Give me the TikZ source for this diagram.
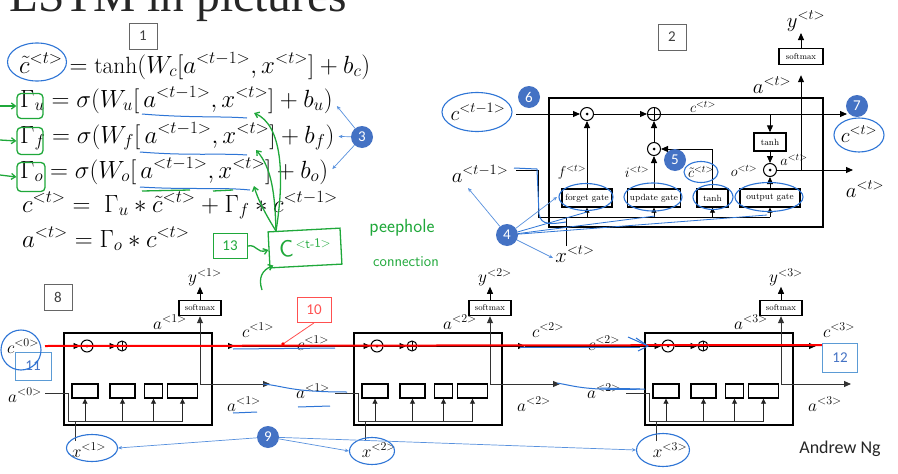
\documentclass[tikz,border=0pt]{standalone}
\usepackage{fontspec}
\usepackage{graphicx}
\newfontfamily\calib{Carlito}
\newfontfamily\ttlfont{Liberation Serif}
\usetikzlibrary{arrows.meta,calc,shapes.geometric}
\definecolor{annoblue}{HTML}{2E75D6}
\definecolor{numblue}{HTML}{4472C4}
\definecolor{grn}{HTML}{1FA83A}
\definecolor{boxred}{HTML}{FF5050}
\definecolor{boxblue}{HTML}{5B9BD5}
\tikzset{
  eqn/.style={anchor=base west, inner sep=0pt, font=\fontsize{23.5}{28}\selectfont},
  lbl/.style={inner sep=0pt, font=\fontsize{20}{24}\selectfont},
  lblm/.style={inner sep=0pt, font=\fontsize{17}{20}\selectfont},
  lbls/.style={inner sep=0pt, font=\fontsize{14}{16}\selectfont},
  numbox/.style={draw=black!60, line width=0.7pt, font=\calib\fontsize{15}{15}\selectfont, text=black!75, minimum width=28pt, minimum height=26pt, inner sep=0pt},
  cellbox/.style={draw, line width=1.8pt, inner sep=0pt},
  gatebox/.style={draw, line width=1.4pt, inner sep=0pt, minimum height=18pt, font=\fontsize{9}{10}\selectfont},
  smallgate/.style={draw, line width=1.4pt, inner sep=0pt, minimum height=14pt},
  softbox/.style={draw, line width=1.4pt, inner sep=0pt, minimum height=16pt, font=\fontsize{8.5}{9}\selectfont},
  mulop/.style={circle, draw, line width=1pt, inner sep=0pt, minimum size=13pt,
    path picture={\fill (path picture bounding box.center) circle (1.5pt);}},
  addop/.style={circle, draw, line width=1pt, inner sep=0pt, minimum size=13pt,
    path picture={\draw (path picture bounding box.north) -- (path picture bounding box.south)
      (path picture bounding box.west) -- (path picture bounding box.east);}},
  wire/.style={draw, line width=0.9pt},
  flow/.style={draw, line width=0.9pt, -{Triangle[length=7pt,width=6pt]}},
  flowsm/.style={draw, line width=0.9pt, -{Triangle[length=5pt,width=5pt]}},
  bnum/.style={circle, fill=numblue, text=white, font=\calib\fontsize{15}{15}\selectfont, minimum size=22pt, inner sep=0pt},
  handell/.style={ellipse, draw=annoblue, line width=1.1pt, inner sep=0pt},
  anno/.style={draw=annoblue, line width=1pt},
  annoarrow/.style={draw=annoblue!80, line width=0.7pt, -{Stealth[length=4pt,width=3.5pt]}},
  gline/.style={draw=grn, line width=1.3pt},
  garrow/.style={draw=grn, line width=1.3pt, -{Straight Barb[length=4pt,width=6pt]}},
  greenbox/.style={draw=grn, line width=1.3pt, rounded corners=4pt, inner sep=0pt},
}
\begin{document}
\begin{tikzpicture}[x=1pt,y=-1pt]
\useasboundingbox (0,0) rectangle (898,474);
\fill[white] (0,0) rectangle (898,474);

% ---------- title ----------
\node[anchor=base west, inner sep=0pt, text=black!85, font=\ttlfont\fontsize{47.5}{48}\selectfont] (title) at (9,11) {LSTM in pictures};

% ---------- equations ----------
\node[numbox] (b1) at (143,36) {1};
\node[eqn] (e1) at (19,73) {$\tilde c^{<t>} = \tanh(W_c[a^{<t-1>}, x^{<t>}] + b_c)$};
\node[eqn] (e2) at (20,107) {$\Gamma_u = \sigma(W_u[\,a^{<t-1>}, x^{<t>}] + b_u)$};
\node[eqn] (e3) at (20,143) {$\Gamma_f = \sigma(W_f[\,a^{<t-1>}, x^{<t>}] + b_f)$};
\node[eqn] (e4) at (20,178) {$\Gamma_o = \sigma(W_o[\,a^{<t-1>}, x^{<t>}] + b_o)$};
\node[eqn] (e5) at (22,212) {$c^{<t>} = \;\Gamma_u * \tilde c^{<t>} + \Gamma_f * c^{<t-1>}$};
\node[eqn] (e6) at (22,247) {$a^{<t>} = \Gamma_o * c^{<t>}$};

% marks on the equations
\node[handell, minimum width=59pt, minimum height=38pt] (ect) at (37,62) {};
\node[greenbox, minimum width=26pt, minimum height=25pt] (gu) at (30,106) {};
\node[greenbox, minimum width=26pt, minimum height=27pt] (gf) at (30,141) {};
\node[greenbox, minimum width=28pt, minimum height=29pt] (go) at (31,177) {};
\coordinate (gul) at (0,106); \coordinate (gfl) at (0,140); \coordinate (gol) at (0,175);
\draw[garrow] (gul) -- (gu.west);
\draw[garrow] (gfl) -- (gf.west);
\draw[garrow] (gol) -- (go.west);
\draw[anno] (142,114) .. controls (190,118) and (220,116) .. (247,118);
\draw[anno] (140,152) .. controls (190,156) and (220,153) .. (247,155);
\draw[anno] (140,187) .. controls (190,190) and (220,187) .. (250,190);
\draw[gline] (142,191) -- (190,190);
\draw[gline] (213,191) -- (233,190);

\node[bnum] (n3) at (362,137) {3};
\draw[annoarrow] (n3) -- ($(e2.east)+(4,6)$);
\draw[annoarrow] (n3) -- ($(e3.east)+(4,0)$);
\draw[annoarrow] (n3) -- ($(e4.east)+(4,-2)$);

% peephole note
\node[draw=grn, line width=0.9pt, text=grn, font=\calib\fontsize{15}{15}\selectfont, minimum width=34pt, minimum height=25pt, inner sep=0pt] (b13) at (230,246) {13};
\node[draw=grn, line width=1.3pt, rotate=3, minimum width=72pt, minimum height=36pt, inner sep=0pt, text=grn] (cbox) at (305,248)
  {\sffamily\fontsize{24}{24}\selectfont C\raisebox{8pt}{\fontsize{13}{13}\selectfont\,<t-1>}};
\draw[garrow] (b13.east) .. controls (258,244) and (256,254) .. (cbox.west);
\coordinate (cbelow) at (262,290);
\draw[garrow] (cbelow) .. controls (258,278) and (262,270) .. ($(cbox.south west)+(4,-3)$);
\coordinate (ctop) at (276,231);
\coordinate (pk2) at (254,113);
\coordinate (pk3) at (256,150);
\coordinate (pk4) at (254,186);
\draw[garrow] (ctop) .. controls (285,175) and (282,125) .. (pk2);
\draw[garrow] (ctop) .. controls (275,195) and (272,168) .. (pk3);
\draw[garrow] (ctop) .. controls (266,215) and (258,200) .. (pk4);
\node[text=grn, inner sep=0pt, font=\sffamily\fontsize{19}{19}\selectfont] (peep) at (402,228) {peephole};
\node[text=grn, inner sep=0pt, font=\sffamily\fontsize{15}{15}\selectfont] (conn) at (406,262) {connection};

% ---------- single LSTM cell ----------
\node[numbox] (b2) at (672,37) {2};
\node[cellbox, minimum width=274pt, minimum height=129pt] (cellT) at (686,162.5) {};
\node[mulop] (fmul) at (587,114) {};
\node[addop] (cadd) at (654,114) {};
\node[mulop] (imul) at (654,149) {};
\node[mulop] (omul) at (770,170) {};
\node[gatebox, minimum width=32pt] (tanhU) at (770,142) {tanh};
\node[gatebox, minimum width=50pt] (fgate) at (587,198) {forget gate};
\node[gatebox, minimum width=53pt] (ugate) at (654,198) {update gate};
\node[gatebox, minimum width=31pt] (tgate) at (712.5,198) {tanh};
\node[gatebox, minimum width=60pt] (ogate) at (770,198) {output gate};
\node[softbox, minimum width=44pt] (softT) at (801,56.5) {softmax};

\node[lbl] (ctm1) at (478,112) {$c^{<t-1>}$};
\node[lbl] (atm1) at (480,174) {$a^{<t-1>}$};
\node[lbl] (xt) at (575,254) {$x^{<t>}$};
\node[lbl] (ctout) at (859,134) {$c^{<t>}$};
\node[lbl] (atout) at (865,189) {$a^{<t>}$};
\node[lbl] (yt) at (806,21) {$y^{<t>}$};
\node[lbl] (atup) at (772,85) {$a^{<t>}$};
\node[lbls] (cti) at (703,107) {$c^{<t>}$};
\node[lbls] (ft) at (572,172) {$f^{<t>}$};
\node[lbls] (it) at (637,172) {$i^{<t>}$};
\node[lbls] (cdt) at (701,172) {$\tilde c^{<t>}$};
\node[lbls] (ot) at (744,171) {$o^{<t>}$};
\node[lbls] (ati) at (794,160) {$a^{<t>}$};

\coordinate (cin) at (516,114);
\coordinate (cout) at (847,114);
\draw[flow] (cin) -- (fmul);
\draw[flow] (fmul) -- (cadd);
\draw[flow] (cadd) -- (cout);
\draw[flow] (tanhU.north |- cadd) -- (tanhU.north);
\draw[flow] (tanhU) -- (omul);
\draw[flow] (fgate) -- (fmul);
\draw[flow] (ugate) -- (imul);
\draw[flow] (imul) -- (cadd);
\draw[flow] (tgate.north) |- (imul);
\draw[flow] (ogate) -- (omul);
\coordinate (aout) at (853,170);
\draw[flow] (omul) -- (aout);
\coordinate (asplit) at (801,170);
\draw[flow] (asplit) -- ($(softT.south)+(0,10)$);
\coordinate (ytop) at (801,33);
\draw[flow] (softT) -- (ytop);
\coordinate (ain) at (516,170);
\coordinate (bus) at (538,217);
\draw[wire] (ain) -| (bus) -- (ogate.south |- bus);
\coordinate (xin) at (566,246);
\draw[wire] (xin) -- (xin |- bus);
\foreach \g in {fgate,ugate,tgate,ogate} \draw[flowsm] (\g.south |- bus) -- (\g.south);

% marks on the cell
\node[handell, minimum width=70pt, minimum height=39pt] (ectm1) at (477,112) {};
\node[handell, minimum width=50pt, minimum height=34pt] (ectout) at (859,135) {};
\node[handell, minimum width=54pt, minimum height=27pt] (efg) at (586,197) {};
\node[handell, minimum width=58pt, minimum height=28pt] (eug) at (653,197) {};
\node[handell, minimum width=40pt, minimum height=25pt] (etg) at (713,197) {};
\node[handell, minimum width=68pt, minimum height=29pt] (eog) at (769,197) {};
\node[handell, minimum width=34pt, minimum height=21pt] (ecdt) at (701,172) {};
\node[bnum] (n6) at (529,97) {6};
\node[bnum] (n7) at (857,106) {7};
\node[bnum] (n5) at (675,160) {5};
\node[bnum] (n4) at (507,235) {4};
\coordinate (p4a) at (468,188);
\coordinate (p4x) at (553,258);
\coordinate (p4f) at (557,197);
\draw[annoarrow] (n4) -- (p4a);
\draw[annoarrow] (n4) -- (p4x);
\draw[annoarrow] (n4) -- (p4f);
\draw[anno, line width=0.8pt] (n4) -- (587,212);
\draw[anno, line width=0.8pt] (n4) -- (655,216);
\draw[anno, line width=0.8pt] (n4) -- (767,215);
\draw[anno] (514,168) -- (537,169) -- (539,214) .. controls (541,226) and (552,224) .. (566,222);

% ---------- unrolled chain ----------
\node[numbox] (b8) at (58,297) {8};
\foreach \i/\x in {1/64,2/354,3/645}{
  \node[cellbox, minimum width=148pt, minimum height=92pt] (cell\i) at (\x+74,379) {};
  \node[mulop, minimum size=12pt] (mul\i) at (\x+23,346) {};
  \node[addop, minimum size=10pt] (add\i) at (\x+58,346) {};
  \node[smallgate, minimum width=26pt] (ga\i) at (\x+21,391) {};
  \node[smallgate, minimum width=25pt] (gb\i) at (\x+58.5,391) {};
  \node[smallgate, minimum width=18pt] (gc\i) at (\x+89.5,391) {};
  \node[smallgate, minimum width=30pt] (gd\i) at (\x+118.5,391) {};
  \node[softbox, minimum width=42pt, minimum height=15pt] (sm\i) at (\x+136,308) {softmax};
  \node[lblm] (y\i) at (\x+141,277) {$y^{<\i>}$};
  \node[lblm] (aup\i) at (\x+106,322) {$a^{<\i>}$};
  \node[lblm] (cr\i) at (\x+194,330) {$c^{<\i>}$};
  \node[lblm] (ar\i) at (\x+180,404) {$a^{<\i>}$};
  \node[lblm] (x\i) at (\x+25,450) {$x^{<\i>}$};
  \coordinate (bus\i) at (\x+4,421);
  \coordinate (ain\i) at (\x-19,393);
  \coordinate (xin\i) at (\x+11,441);
  \coordinate (cst\i) at (\x-19,346);
  \coordinate (cend\i) at (\x+171,346);
  \coordinate (ao\i) at (\x+136,384);
  \coordinate (aend\i) at (\x+206,384);
  \draw[wire, black!80] (ain\i) -| (bus\i) -- (gd\i.south |- bus\i);
  \draw[wire, black!80] (xin\i) -- (xin\i |- bus\i);
  \foreach \g in {ga,gb,gc,gd} \draw[flowsm, black!85] (\g\i.south |- bus\i) -- (\g\i.south);
  \draw[flow, black!80] (ao\i) -- (sm\i.south);
  \draw[flow, black!80] (ao\i) -- (aend\i);
  \draw[flow] (sm\i.north) -- ++(0,-13);
  \draw[flow] (cst\i) -- (mul\i);
  \draw[flow] (mul\i) -- (add\i);
  \draw[flow] (add\i) -- (cend\i);
}
\draw[wire] (cend1) -- (cst2);
\draw[wire] (cend2) -- (cst3);
\node[lblm] (c0) at (23,346) {$c^{<0>}$};
\node[lblm] (a0) at (25,395) {$a^{<0>}$};
\node[lblm] (cm1) at (313,343) {$c^{<1>}$};
\node[lblm] (am1) at (313,391) {$a^{<1>}$};
\node[lblm] (cm2) at (604,343) {$c^{<2>}$};
\node[lblm] (am2) at (604,391) {$a^{<2>}$};

% highlighted memory path
\coordinate (redend) at (822,345);
\draw[red, line width=2pt] (cst1) -- (redend);
\node[draw=boxred, text=boxred, line width=0.8pt, font=\calib\fontsize{15}{15}\selectfont, minimum width=34pt, minimum height=25pt, inner sep=0pt] (b10) at (314,310) {10};
\coordinate (dot10) at (283,344);
\draw[boxred, line width=0.8pt] (b10.south) -- (dot10);
\fill[red] (dot10) circle (1.8pt);
\node[draw=boxblue, text=numblue, line width=0.8pt, font=\calib\fontsize{15}{15}\selectfont, minimum width=36pt, minimum height=28pt, inner sep=0pt] (b11) at (33,366) {11};
\node[draw=boxblue, text=numblue, line width=0.8pt, font=\calib\fontsize{15}{15}\selectfont, minimum width=35pt, minimum height=29pt, inner sep=0pt] (b12) at (840,358) {12};

% marks on the chain
\node[handell, minimum width=40pt, minimum height=40pt] (ec0) at (21,350) {};
\node[handell, minimum width=51pt, minimum height=27pt] (ex1) at (92,448) {};
\node[handell, minimum width=45pt, minimum height=27pt] (ex2) at (372,451) {};
\node[handell, minimum width=53pt, minimum height=33pt] (ex3) at (663,450) {};
\node[bnum] (n9) at (268,437) {9};
\draw[annoarrow] (n9) -- (ex1.east);
\draw[annoarrow] (n9) -- (ex2.west);
\draw[annoarrow] (n9) -- (ex3.west);
\draw[anno] (233,349) -- (335,348);
\draw[anno] (263,384) .. controls (285,386) and (290,392) .. (347,392);
\draw[anno] (233,413) -- (257,412);
\draw[anno] (298,407) -- (330,406);
\draw[anno] (520,347) -- (640,347);
\draw[anno] (636,338) -- (648,346) -- (638,351);
\draw[anno] (557,383) .. controls (575,386) and (585,391) .. (645,389);
\draw[anno] (628,337) -- (646,345);
\draw[anno] (600,388) -- (640,389);

\node[inner sep=0pt, text=black!85, font=\calib\fontsize{18}{18}\selectfont] (sig) at (840,449) {Andrew Ng};
\end{tikzpicture}
\end{document}
